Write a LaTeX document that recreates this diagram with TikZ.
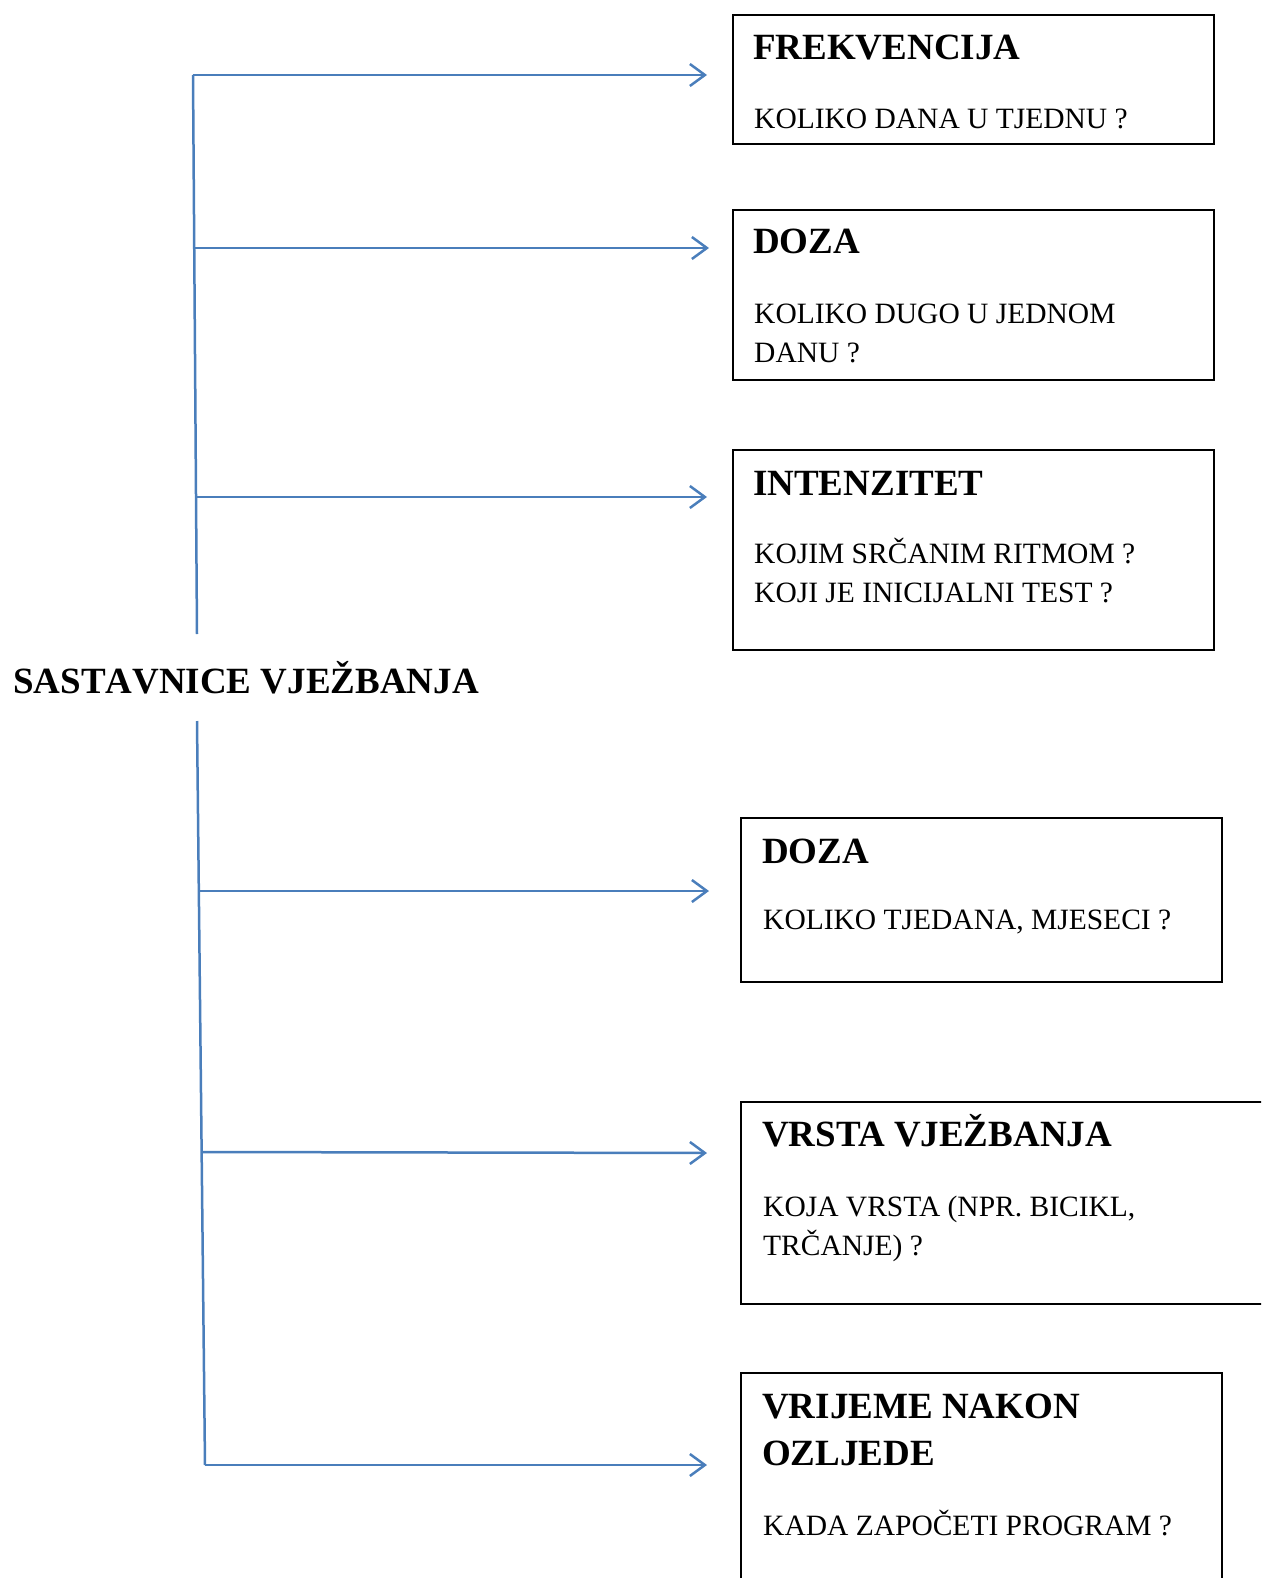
\documentclass[tikz,border=0pt]{standalone}
\usepackage{fontspec}
\setmainfont{Liberation Serif}
\usetikzlibrary{arrows.meta}
\definecolor{wordblue}{RGB}{74,126,187}
\tikzset{
  trunk/.style={draw=wordblue, line width=2.5pt},
  arr/.style={draw=wordblue, line width=2.5pt, -{Straight Barb[length=15pt,width=22pt,line width=2.5pt]}},
  box/.style={draw, line width=2pt, anchor=north west, inner sep=0pt},
  head/.style={anchor=base west, inner sep=0pt, align=left, font=\bfseries\fontsize{37}{47}\selectfont},
  maintitle/.style={head, font=\bfseries\fontsize{37}{47}\selectfont\addfontfeature{Kerning=Off}},
  body/.style={anchor=base west, inner sep=0pt, align=left, font=\fontsize{29.5}{39}\selectfont},
}
\begin{document}
\begin{tikzpicture}[x=1pt,y=-1pt]
\clip (0,0) rectangle (1261,1578);

\node[maintitle] (title) at (13,693) {SASTAVNICE VJEŽBANJA};

\node[box, minimum width=481, minimum height=129] (b1) at (732,14) {};
\node[box, minimum width=481, minimum height=170] (b2) at (732,209) {};
\node[box, minimum width=481, minimum height=200] (b3) at (732,449) {};
\node[box, minimum width=481, minimum height=164] (b4) at (740,817) {};
\node[box, minimum width=570, minimum height=202] (b5) at (740,1101) {};
\node[box, minimum width=481, minimum height=280] (b6) at (740,1372) {};

% multi-line nodes sit on the baseline of their last line
\node[head] (h1) at (753,60) {FREKVENCIJA};
\node[body] (q1) at (754,129) {KOLIKO DANA U TJEDNU ?};
\node[head] (h2) at (753,254) {DOZA};
\node[body] (q2) at (754,362) {KOLIKO DUGO U JEDNOM\\DANU ?};
\node[head] (h3) at (753,495) {INTENZITET};
\node[body] (q3) at (754,602) {KOJIM SRČANIM RITMOM ?\\KOJI JE INICIJALNI TEST ?};
\node[head] (h4) at (762,863) {DOZA};
\node[body] (q4) at (763,929) {KOLIKO TJEDANA, MJESECI ?};
\node[head] (h5) at (762,1146) {VRSTA VJEŽBANJA};
\node[body] (q5) at (763,1255) {KOJA VRSTA (NPR. BICIKL,\\TRČANJE) ?};
\node[head] (h6) at (762,1465) {VRIJEME NAKON\\OZLJEDE};
\node[body] (q6) at (763,1535) {KADA ZAPOČETI PROGRAM ?};

\coordinate (t1) at (193,75);
\coordinate (t2) at (194.2,248);
\coordinate (t3) at (196,497);
\coordinate (ta) at (197,634);
\coordinate (tb) at (197,721);
\coordinate (t4) at (198.8,891);
\coordinate (t5) at (201.6,1152);
\coordinate (t6) at (205,1465);

\coordinate (e1) at (707,75);
\coordinate (e2) at (709,248);
\coordinate (e3) at (707,497);
\coordinate (e4) at (709,891);
\coordinate (e5) at (707,1153);
\coordinate (e6) at (707,1465);

\path[trunk] (t1) -- (ta);
\path[trunk] (tb) -- (t6);
\path[arr] (t1) -- (e1);
\path[arr] (t2) -- (e2);
\path[arr] (t3) -- (e3);
\path[arr] (t4) -- (e4);
\path[arr] (t5) -- (e5);
\path[arr] (t6) -- (e6);
\end{tikzpicture}
\end{document}
